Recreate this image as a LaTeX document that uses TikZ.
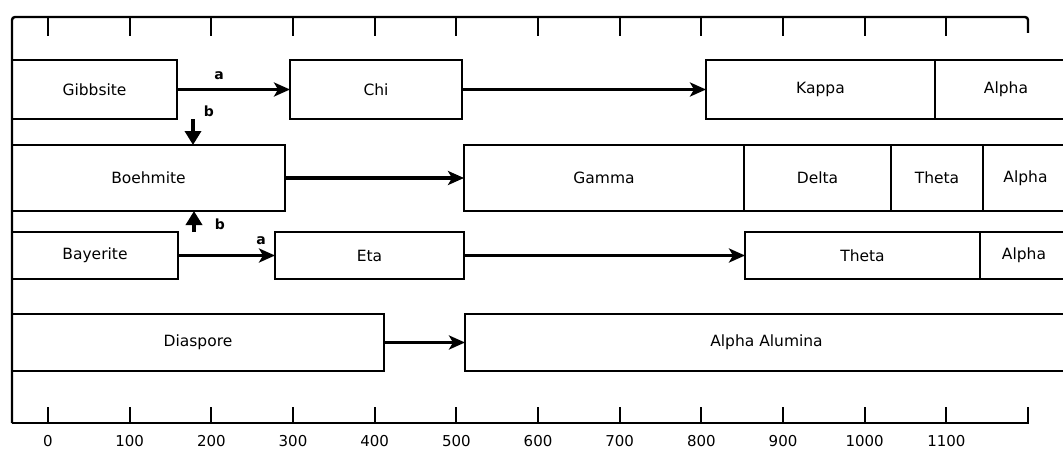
\documentclass[tikz,border=0pt]{standalone}
\usepackage{fontspec}
\setmainfont{DejaVu Sans}
\usetikzlibrary{arrows.meta,calc}
\begin{document}
\begin{tikzpicture}[x=1pt,y=-1pt,
  box/.style={draw,line width=2.4pt,anchor=north west,inner sep=0pt,outer sep=0pt,
    font=\fontsize{15.5}{18}\selectfont},
  harrow/.style={line width=3.6pt,-{Stealth[length=16pt,width=14pt,inset=4pt]}},
  varrow/.style={line width=4.5pt,-{Triangle[length=14pt,width=16pt]}},
  frame/.style={line width=2.4pt},
  tick/.style={line width=2pt},
  lab/.style={font=\bfseries\fontsize{14}{16}\selectfont,inner sep=0pt},
  num/.style={font=\fontsize{15}{17}\selectfont,inner sep=0pt}
]
\useasboundingbox (0,0) rectangle (1063,452);
\clip (0,0) rectangle (1063,452);

% frame / temperature axes
\draw[frame,rounded corners=3pt] (12,423) -- (12,17) -- (1028,17) -- (1028,33);
\draw[frame] (12,423) -- (1028,423) -- (1028,407);
\foreach \k in {0,...,11} {
  \pgfmathsetmacro\xx{48+81.67*\k}
  \pgfmathtruncatemacro\vv{100*\k}
  \draw[tick] (\xx,17) -- ++(0,19);
  \draw[tick] (\xx,423) -- ++(0,-16);
  \node[num] (t\k) at (\xx,441) {\vv};
}

% row 1
\node[box,minimum width=165pt,minimum height=59pt] (gib) at (12,60) {Gibbsite};
\node[box,minimum width=172pt,minimum height=59pt] (chi) at (290,60) {Chi};
\node[box,minimum width=229pt,minimum height=59pt] (kap) at (706,60) {Kappa};
\node[box,minimum width=142pt,minimum height=59pt] (alp1) at (935,60) {Alpha};

% row 2
\node[box,minimum width=273pt,minimum height=66pt] (boe) at (12,145) {Boehmite};
\node[box,minimum width=280pt,minimum height=66pt] (gam) at (464,145) {Gamma};
\node[box,minimum width=147pt,minimum height=66pt] (del) at (744,145) {Delta};
\node[box,minimum width=92pt,minimum height=66pt] (the2) at (891,145) {Theta};
\node[box,minimum width=85pt,minimum height=66pt] (alp2) at (983,145) {Alpha};

% row 3
\node[box,minimum width=166pt,minimum height=47pt] (bay) at (12,232) {Bayerite};
\node[box,minimum width=189pt,minimum height=47pt] (eta) at (275,232) {Eta};
\node[box,minimum width=235pt,minimum height=47pt] (the3) at (745,232) {Theta};
\node[box,minimum width=88pt,minimum height=47pt] (alp3) at (980,232) {Alpha};

% row 4
\node[box,minimum width=372pt,minimum height=57pt] (dia) at (12,314) {Diaspore};
\node[box,minimum width=603pt,minimum height=57pt] (aal) at (465,314) {Alpha Alumina};

% horizontal transitions
\draw[harrow] (gib.east) -- (chi.west);
\draw[harrow] (chi.east) -- (kap.west);
\draw[harrow] (boe.east) -- (gam.west);
\draw[harrow] (bay.east) -- (eta.west);
\draw[harrow] (eta.east) -- (the3.west);
\draw[harrow] (dia.east) -- (aal.west);

% vertical transitions
\coordinate (vx1) at (193,0);
\coordinate (vx2) at (194,0);
\draw[varrow] (gib.south -| vx1) -- (boe.north -| vx1);
\draw[varrow] (bay.north -| vx2) -- (boe.south -| vx2);

% labels
\node[lab] (la1) at (219,76) {a};
\node[lab] (lb1) at (209,111) {b};
\node[lab] (lb2) at (220,224) {b};
\node[lab] (la2) at (261,241) {a};
\end{tikzpicture}
\end{document}
